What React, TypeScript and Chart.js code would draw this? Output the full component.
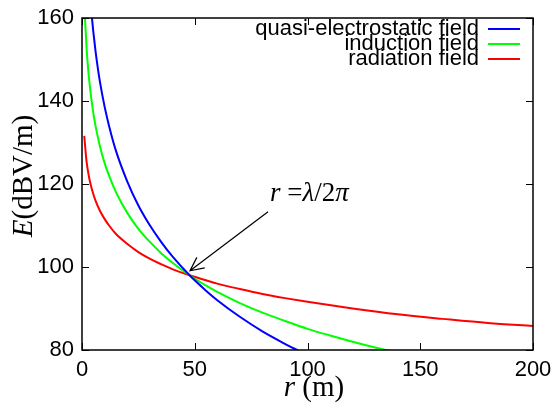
import React, { useEffect, useRef } from "react";
import { Chart, registerables } from "chart.js";
Chart.register(...registerables);

const quasiR = [4.4, 5, 6, 7, 8, 10, 12, 15, 20, 25, 30, 35, 40, 47.7, 55, 60, 70, 80, 90, 96];
const quasiE = [160.1, 156.8, 152.0, 148.0, 144.5, 138.7, 134.0, 128.1, 120.7, 114.8, 110.1, 106.1, 102.6, 98, 94.3, 92.0, 88.0, 84.5, 81.5, 79.8];

const inducR = [1.35, 1.5, 2, 2.5, 3, 4, 5, 6, 8, 10, 12, 15, 20, 25, 30, 35, 40, 47.7, 55, 60, 70, 80, 90, 100, 110, 120, 130, 137];
const inducE = [159.9, 158.1, 153.1, 149.2, 146.1, 141.1, 137.2, 134.0, 129.0, 125.1, 122.0, 118.1, 113.1, 109.2, 106.1, 103.4, 101.1, 98, 95.5, 94.0, 91.3, 89.0, 87.0, 85.1, 83.5, 82.0, 80.6, 79.7];

const radR = [1, 2, 3, 4, 5, 6, 8, 10, 12, 15, 20, 25, 30, 35, 40, 47.7, 55, 60, 70, 80, 90, 100, 120, 140, 160, 180, 200];
const radE = [131.6, 125.5, 122.0, 119.5, 117.6, 116.0, 113.5, 111.6, 110.0, 108.0, 105.6, 103.6, 102.0, 100.7, 99.5, 98, 96.8, 96.0, 94.7, 93.5, 92.5, 91.6, 90.0, 88.6, 87.5, 86.5, 85.8];

const seriesNames = ["quasi-electrostatic field", "induction field", "radiation field"];
const seriesColors = ["#0000ff", "#00ff00", "#ff0000"];

const xTicks = [0, 50, 100, 150, 200];
const yTicks = [80, 100, 120, 140, 160];

// annotation (data coordinates)
const arrowFrom = [82.5, 113.3];
const arrowTo = [47.9, 99.1];
const noteAt = [83.4, 116.0];

const SANS = "'Liberation Sans', Arial, sans-serif";
const SERIF = "'Liberation Serif', 'Times New Roman', serif";

type Seg = { t: string; italic?: boolean };

function drawSegs(ctx: CanvasRenderingContext2D, segs: Seg[], x: number, y: number, size: number, align: "left" | "center") {
  const fontOf = (s: Seg) => `${s.italic ? "italic " : ""}${size}px ${SERIF}`;
  let total = 0;
  for (const s of segs) {
    ctx.font = fontOf(s);
    total += ctx.measureText(s.t).width;
  }
  let cx = align === "center" ? x - total / 2 : x;
  ctx.textAlign = "left";
  ctx.textBaseline = "alphabetic";
  for (const s of segs) {
    ctx.font = fontOf(s);
    ctx.fillText(s.t, cx, y);
    cx += ctx.measureText(s.t).width;
  }
}

const framePlugin = {
  id: "frame",
  afterDraw(chart: any) {
    const ctx: CanvasRenderingContext2D = chart.ctx;
    const { left, right, top, bottom } = chart.chartArea;
    const xs = chart.scales.x;
    const ys = chart.scales.y;
    ctx.save();
    ctx.strokeStyle = "#000";
    ctx.lineWidth = 1.5;
    ctx.strokeRect(left, top, right - left, bottom - top);
    ctx.lineWidth = 1;
    const tl = 7;
    ctx.beginPath();
    for (const v of xTicks) {
      const px = Math.round(xs.getPixelForValue(v)) + 0.5;
      ctx.moveTo(px, bottom);
      ctx.lineTo(px, bottom - tl);
      ctx.moveTo(px, top);
      ctx.lineTo(px, top + tl);
    }
    for (const v of yTicks) {
      const py = Math.round(ys.getPixelForValue(v)) + 0.5;
      ctx.moveTo(left, py);
      ctx.lineTo(left + tl, py);
      ctx.moveTo(right, py);
      ctx.lineTo(right - tl, py);
    }
    ctx.stroke();

    // legend
    ctx.fillStyle = "#000";
    ctx.font = `22px ${SANS}`;
    ctx.textAlign = "right";
    ctx.textBaseline = "alphabetic";
    seriesNames.forEach((name, i) => {
      const base = top + 17 + i * 15;
      ctx.fillText(name, right - 54, base);
      ctx.strokeStyle = seriesColors[i];
      ctx.lineWidth = 2;
      ctx.beginPath();
      ctx.moveTo(right - 45, base - 6);
      ctx.lineTo(right - 13, base - 6);
      ctx.stroke();
    });

    // annotation arrow
    const x0 = xs.getPixelForValue(arrowFrom[0]);
    const y0 = ys.getPixelForValue(arrowFrom[1]);
    const x1 = xs.getPixelForValue(arrowTo[0]);
    const y1 = ys.getPixelForValue(arrowTo[1]);
    ctx.strokeStyle = "#000";
    ctx.lineWidth = 1.2;
    ctx.beginPath();
    ctx.moveTo(x0, y0);
    ctx.lineTo(x1, y1);
    const ang = Math.atan2(y1 - y0, x1 - x0);
    const hl = 15;
    const ha = 0.45;
    ctx.moveTo(x1 - hl * Math.cos(ang - ha), y1 - hl * Math.sin(ang - ha));
    ctx.lineTo(x1, y1);
    ctx.lineTo(x1 - hl * Math.cos(ang + ha), y1 - hl * Math.sin(ang + ha));
    ctx.stroke();

    ctx.fillStyle = "#000";
    drawSegs(
      ctx,
      [{ t: "r", italic: true }, { t: " =" }, { t: "λ", italic: true }, { t: "/2" }, { t: "π", italic: true }],
      xs.getPixelForValue(noteAt[0]),
      ys.getPixelForValue(noteAt[1]),
      27,
      "left"
    );

    // axis titles
    drawSegs(ctx, [{ t: "r", italic: true }, { t: " (m)" }], 314, 396, 29, "center");
    ctx.save();
    ctx.translate(32, 176);
    ctx.rotate(-Math.PI / 2);
    drawSegs(ctx, [{ t: "E", italic: true }, { t: "(dBV/m)" }], 0, 0, 29, "center");
    ctx.restore();
    ctx.restore();
  },
};

function toPoints(xs: number[], ys: number[]) {
  return xs.map((x, i) => ({ x, y: ys[i] }));
}

export default function App() {
  const ref = useRef<HTMLCanvasElement | null>(null);
  useEffect(() => {
    if (!ref.current) return;
    const series = [
      toPoints(quasiR, quasiE),
      toPoints(inducR, inducE),
      toPoints(radR, radE),
    ];
    const chart = new Chart(ref.current, {
      type: "scatter",
      data: {
        datasets: series.map((pts, i) => ({
          label: seriesNames[i],
          data: pts,
          showLine: true,
          borderColor: seriesColors[i],
          backgroundColor: seriesColors[i],
          borderWidth: 2,
          pointRadius: 0,
          cubicInterpolationMode: "monotone" as const,
        })),
      },
      options: {
        animation: false,
        responsive: true,
        maintainAspectRatio: false,
        layout: { padding: { top: 18, right: 22, left: 0, bottom: 0 } },
        plugins: { legend: { display: false }, tooltip: { enabled: false } },
        scales: {
          x: {
            type: "linear",
            min: 0,
            max: 200,
            afterBuildTicks: (s: any) => {
              s.ticks = xTicks.map((v) => ({ value: v }));
            },
            afterFit: (s: any) => {
              s.height = 56;
              s.paddingRight = 0;
              s.paddingLeft = 0;
            },
            grid: { display: false, drawTicks: false },
            border: { display: false },
            ticks: { color: "#000", font: { family: SANS, size: 22 }, padding: 7, maxRotation: 0 },
          },
          y: {
            type: "linear",
            min: 80,
            max: 160,
            afterBuildTicks: (s: any) => {
              s.ticks = yTicks.map((v) => ({ value: v }));
            },
            afterFit: (s: any) => {
              s.width = 82;
              s.paddingTop = 0;
              s.paddingBottom = 0;
            },
            grid: { display: false, drawTicks: false },
            border: { display: false },
            ticks: { color: "#000", font: { family: SANS, size: 22 }, padding: 8 },
          },
        },
      },
      plugins: [framePlugin],
    });
    return () => chart.destroy();
  }, []);
  return (
    <div style={{ position: "fixed", left: 0, top: 0, width: 555, height: 406, background: "#fff" }}>
      <canvas ref={ref} />
    </div>
  );
}
